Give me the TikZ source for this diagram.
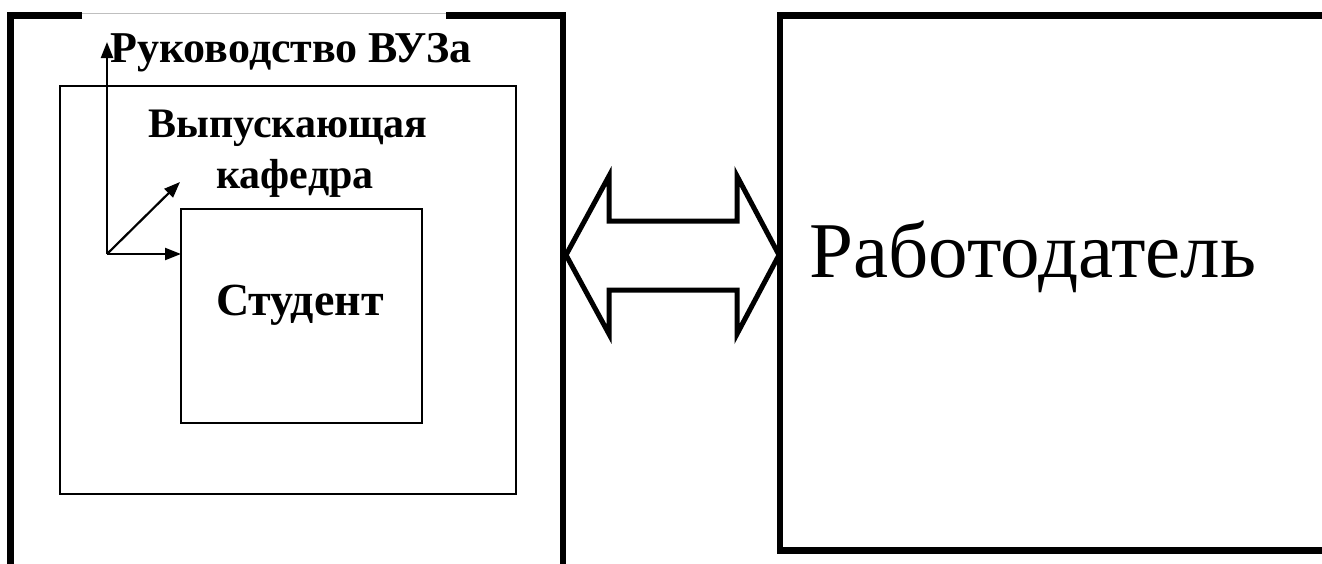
\documentclass[tikz,border=0pt]{standalone}
\usepackage{fontspec}
\setmainfont{Liberation Serif}
\usetikzlibrary{arrows.meta}
\begin{document}
\begin{tikzpicture}[x=1pt,y=-1pt,
  thickline/.style={line width=6.5pt,line join=miter},
  thinbox/.style={draw,line width=2pt},
  ptr/.style={line width=2.2pt,-{Triangle[length=16pt,width=12pt]}},
  bold/.style={font=\fontsize{42}{46}\selectfont\bfseries,align=center,inner sep=0pt},
  big/.style={font=\fontsize{79}{86}\selectfont,inner sep=0pt}]
\useasboundingbox (0,0) rectangle (1322,563);
% left big box (open at bottom)
\draw[thickline] (82,15.5) -- (10.5,15.5) -- (10.5,570);
\draw[thickline] (446,15.5) -- (563,15.5) -- (563,570);
\draw[gray!50,line width=1pt] (82,13) -- (446,13);
% right box (open at right)
\draw[thickline] (1330,15.5) -- (780,15.5) -- (780,550.5) -- (1330,550.5);
% middle and inner boxes
\draw[thinbox] (60,86) rectangle (516,494);
\node[draw,line width=2pt,minimum width=241pt,minimum height=214pt,anchor=north west] (stud) at (180,208) {};
% texts
\node[bold,font=\fontsize{44}{48}\selectfont\bfseries] (ruk) at (291,53) {Руководство ВУЗа};
\node[bold] (vyp) at (288,128) {Выпускающая};
\node[bold] (kaf) at (295,178) {кафедра};
\node[bold,font=\fontsize{46}{50}\selectfont\bfseries] (stt) at (300,305) {Студент};
\node[big] (rab) at (1033,257) {Работодатель};
% arrows
\coordinate (o) at (107,254);
\coordinate (up) at (107,42);
\coordinate (dg) at (180,182);
\coordinate (hz) at (181,254);
\draw[ptr] (o) -- (up);
\draw[ptr] (o) -- (dg);
\draw[ptr] (o) -- (hz);
% double block arrow
\draw[line width=5pt,line join=miter]
  (566,255) -- (609,176) -- (609,221) -- (737,221) -- (737,176) -- (779,255)
  -- (737,334) -- (737,290) -- (609,290) -- (609,334) -- cycle;
\end{tikzpicture}
\end{document}
